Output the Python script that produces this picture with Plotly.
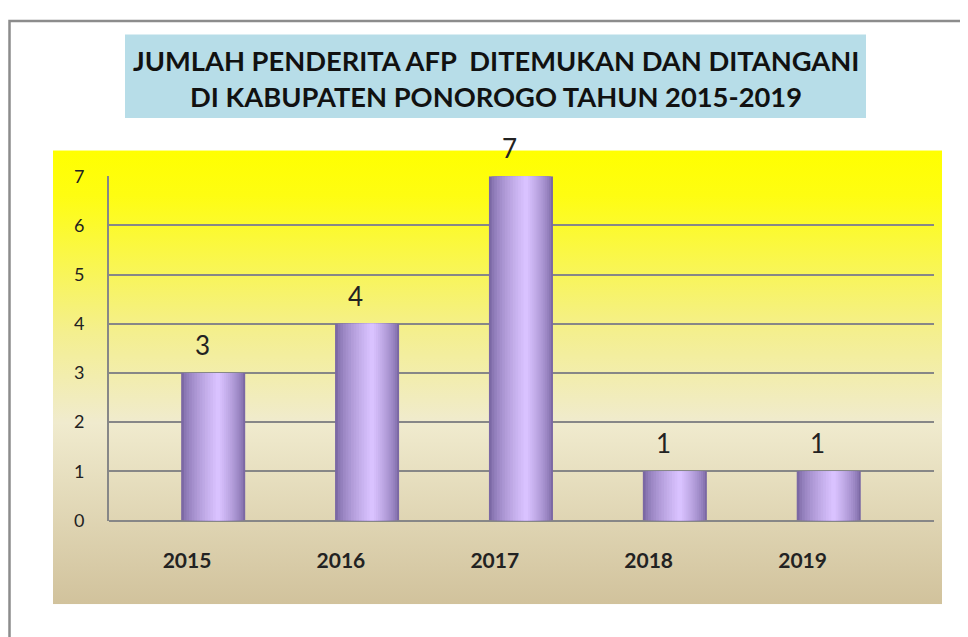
import plotly.graph_objects as go
import urllib.parse

# ---- data ----
years = ["2015", "2016", "2017", "2018", "2019"]
values = [3, 4, 7, 1, 1]
y_ticks = [0, 1, 2, 3, 4, 5, 6, 7]
title_line1 = "JUMLAH PENDERITA AFP  DITEMUKAN DAN DITANGANI"
title_line2 = "DI KABUPATEN PONOROGO TAHUN 2015-2019"

W, H = 968, 637
# mapping from on-screen pixel position to paper fraction (calibrated)
OX, OY, HS = 8, 17, 618

def px(x):
    return (x - OX) / W

def py(y):
    return 1 - (y - OY) / HS

def lerp_color(c1, c2, t):
    a = [int(c1[i:i + 2], 16) for i in (1, 3, 5)]
    b = [int(c2[i:i + 2], 16) for i in (1, 3, 5)]
    return "rgb(%d,%d,%d)" % tuple(round(a[k] + (b[k] - a[k]) * t) for k in range(3))

fig = go.Figure()

# cylinder-like bars: overlay layers narrowing toward a highlight
bar_w = 0.416
bar_off = -0.038
hl = 0.58
N = 14
dark = "#7B68A4"
light = "#D9C2FF"
for i in range(N):
    t = i / N
    left = bar_off + hl * bar_w * t
    right = bar_off + bar_w - (1 - hl) * bar_w * t
    tt = (i / (N - 1)) ** 0.7
    fig.add_trace(go.Bar(
        x=years, y=values,
        width=right - left, offset=left,
        marker=dict(color=lerp_color(dark, light, tt), line=dict(width=0)),
        hoverinfo="skip", showlegend=False,
    ))

# data labels
for idx, v in enumerate(values):
    fig.add_annotation(x=idx, y=v, text=str(v), showarrow=False,
                       xshift=15, yshift=28, yanchor="middle",
                       font=dict(family="Lato", size=26, color="#222222"))

# title
fig.add_annotation(xref="paper", yref="paper", x=px(495.5), y=py(57.5), text="<b>" + title_line1 + "</b>",
                   showarrow=False, xanchor="center", yanchor="middle",
                   font=dict(family="Lato", size=27.3, color="#111111"))
fig.add_annotation(xref="paper", yref="paper", x=px(495.5), y=py(93.5), text="<b>" + title_line2 + "</b>",
                   showarrow=False, xanchor="center", yanchor="middle",
                   font=dict(family="Lato", size=27.3, color="#111111"))

# background gradient
svg = ("<svg xmlns='http://www.w3.org/2000/svg' width='100' height='100' preserveAspectRatio='none'>"
       "<defs><linearGradient id='g' x1='0' y1='0' x2='0' y2='1'>"
       "<stop offset='0' stop-color='#FFFF00'/>"
       "<stop offset='0.10' stop-color='#FEFD12'/>"
       "<stop offset='0.40' stop-color='#F4EF8E'/>"
       "<stop offset='0.60' stop-color='#F0EBCE'/>"
       "<stop offset='1' stop-color='#D1C29C'/>"
       "</linearGradient></defs><rect width='100' height='100' fill='url(#g)'/></svg>")
src = "data:image/svg+xml;charset=utf-8," + urllib.parse.quote(svg)
fig.add_layout_image(dict(source=src, xref="paper", yref="paper",
                          x=px(53), y=py(148), sizex=px(942) - px(53), sizey=py(148) - py(604),
                          xanchor="left", yanchor="top", sizing="stretch", layer="below"))

shapes = [
    dict(type="rect", xref="paper", yref="paper", x0=px(9.5), x1=1.05, y0=-0.05, y1=py(18),
         line=dict(color="#8C8C8C", width=2.5), fillcolor="rgba(0,0,0,0)", layer="below"),
    dict(type="rect", xref="paper", yref="paper", x0=px(125), x1=px(866), y0=py(115.5), y1=py(31.5),
         line=dict(width=0), fillcolor="#B7DDE8", layer="below"),
]

fig.update_layout(
    width=W, height=H,
    margin=dict(l=0, r=0, t=0, b=0),
    paper_bgcolor="white",
    plot_bgcolor="rgba(0,0,0,0)",
    barmode="overlay",
    shapes=shapes,
    xaxis=dict(domain=[px(109), px(934)], type="category", range=[-0.507, 4.854],
               showgrid=False, zeroline=False, showline=False, ticks="",
               ticklabelstandoff=25,
               tickfont=dict(family="Lato", size=21, color="#222222", weight="bold")),
    yaxis=dict(domain=[py(520), py(174)], range=[0, 7], tickvals=y_ticks,
               showgrid=True, gridcolor="#878787", gridwidth=2,
               zeroline=True, zerolinecolor="#878787", zerolinewidth=2,
               showline=True, linecolor="#878787", linewidth=2,
               ticks="", ticklabelstandoff=19,
               tickfont=dict(family="Lato", size=18, color="#222222")),
)

fig.write_html("out.html")
